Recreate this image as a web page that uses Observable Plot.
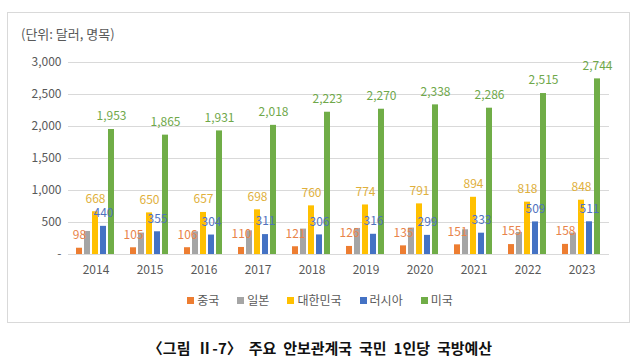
<!DOCTYPE html>
<html><head><meta charset="utf-8">
<script src="https://cdn.jsdelivr.net/npm/d3@7"></script>
<script src="https://cdn.jsdelivr.net/npm/@observablehq/plot@0.6"></script>
<style>
body{margin:0;background:#fff;font-family:"Noto Sans CJK KR","Noto Sans",sans-serif;}
#wrap{position:relative;width:640px;height:361px;overflow:hidden;background:#fff;}
#box{position:absolute;left:7px;top:12px;width:621px;height:309px;border:1px solid #d9d9d9;}
#title{position:absolute;left:21px;top:25px;font-size:13px;color:#595959;line-height:18px;white-space:nowrap;}
#chart{position:absolute;left:0;top:0;}
#legend{position:absolute;left:0;width:640px;top:291px;text-align:center;font-size:12px;color:#595959;line-height:18px;white-space:nowrap;}
#legend span.item{margin:0 9px;}
#legend span.sw{display:inline-block;width:7px;height:7px;margin-right:3px;vertical-align:1px;}
#caption{position:absolute;left:0;width:640px;top:338px;text-align:center;font-size:15px;font-weight:bold;color:#111;line-height:20px;white-space:nowrap;word-spacing:3.5px;}
</style>
</head><body>
<div id="wrap">
  <div id="box"></div>
  <div id="title">(단위: 달러, 명목)</div>
  <div id="chart"></div>
  <div id="legend"></div>
  <div id="caption">〈그림 Ⅱ-7〉 주요 안보관계국 국민 1인당 국방예산</div>
</div>
<script>
const years = ["2014","2015","2016","2017","2018","2019","2020","2021","2022","2023"];
const countries = ["중국","일본","대한민국","러시아","미국"];
const china  = [98,105,106,110,121,126,135,151,155,158];
const japan  = [360,335,355,370,397,407,413,386,345,335];
const korea  = [668,650,657,698,760,774,791,894,818,848];
const russia = [440,355,304,311,306,316,299,333,509,511];
const usa    = [1953,1865,1931,2018,2223,2270,2338,2286,2515,2744];
const yTicks = [0,500,1000,1500,2000,2500,3000];
const colors = ["#ED7D31","#A5A5A5","#FFC000","#4472C4","#70AD47"];
const labelColors = ["#E8834A","#A5A5A5","#E0B03C","#4F72BE","#6FA84A"];
const labeled = [true,false,true,true,true];

const series = [china,japan,korea,russia,usa];
const data = years.flatMap((y,i)=>countries.map((c,j)=>({year:y,country:c,idx:j,value:series[j][i]})));
const fmt = d3.format(",");

const chart = Plot.plot({
  width:640, height:290,
  marginLeft:65, marginRight:27, marginTop:62, marginBottom:36,
  style:{fontFamily:'"Noto Sans CJK KR","Noto Sans",sans-serif', fontSize:"12px", color:"#595959", background:"transparent"},
  fx:{domain:years, paddingInner:0.27, paddingOuter:0.135, label:null, axis:"bottom", tickSize:0, tickPadding:11},
  x:{domain:countries, paddingInner:0.23, paddingOuter:0, axis:null},
  y:{domain:[0,3000], ticks:yTicks, tickFormat:d=>d===0?"-":fmt(d), tickSize:0, tickPadding:15, label:null},
  color:{domain:countries, range:colors},
  marks:[
    Plot.ruleY(yTicks,{stroke:"#d9d9d9", strokeWidth:1, insetLeft:-8, insetRight:-8}),
    Plot.barY(data,{fx:"year", x:"country", y:"value", fill:"country"}),
    Plot.text(data.filter(d=>labeled[d.idx]),{fx:"year", x:"country", y:"value", text:d=>fmt(d.value), fill:d=>labelColors[d.idx], dy:-13, fontSize:12})
  ]
});
document.getElementById("chart").appendChild(chart);

const legend = document.getElementById("legend");
countries.forEach((c,j)=>{
  const s=document.createElement("span"); s.className="item";
  const sw=document.createElement("span"); sw.className="sw"; sw.style.background=colors[j];
  s.appendChild(sw); s.appendChild(document.createTextNode(c));
  legend.appendChild(s);
});
</script>
</body></html>
